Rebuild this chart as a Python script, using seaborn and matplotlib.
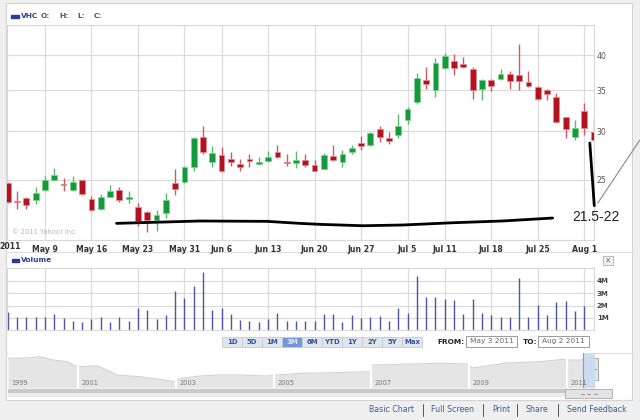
import numpy as np
import pandas as pd
import matplotlib
matplotlib.use("Agg")
import matplotlib.pyplot as plt
import seaborn as sns
from matplotlib.patches import Rectangle
from matplotlib.ticker import FixedLocator, NullLocator, FixedFormatter

sns.set_theme(style="white")
plt.rcParams['font.family'] = ['DejaVu Sans']

# trading days shown (May 30 and Jul 4 markets closed)
days = pd.bdate_range('2011-05-03', '2011-08-02')
days = days[~days.isin(pd.to_datetime(['2011-05-30', '2011-07-04']))]

opens = [24.7, 23.05, 23.3, 23.15, 24.0, 24.95, 24.6, 24.0, 24.95, 23.2,
         22.35, 23.4, 24.0, 23.2, 22.5, 22.15, 21.45, 22.0, 24.65, 24.8,
         26.2, 29.4, 26.7, 27.4, 27.05, 26.55, 27.05, 26.5, 26.8, 27.75,
         26.7, 26.6, 26.95, 26.4, 26.05, 27.3, 26.7, 27.7, 28.75, 28.5,
         30.3, 29.2, 29.6, 31.3, 33.5, 36.4, 35.05, 38.1, 39.1, 38.7,
         37.9, 35.2, 36.4, 36.5, 37.3, 37.1, 36.1, 35.5, 35.0, 34.1,
         31.65, 29.4, 32.35, 29.95]
highs = [24.8, 23.9, 23.4, 24.3, 25.3, 26.1, 25.1, 25.3, 25.0, 23.5,
         23.7, 24.5, 24.3, 23.9, 22.9, 22.2, 22.3, 23.76, 26.0, 26.3,
         29.4, 30.6, 28.4, 28.3, 27.7, 27.0, 27.5, 27.2, 27.8, 28.5,
         27.5, 27.8, 27.5, 26.9, 27.6, 28.5, 27.95, 28.5, 29.5, 29.9,
         30.6, 29.95, 32.0, 32.9, 37.4, 38.3, 39.5, 40.35, 40.1, 39.75,
         38.3, 36.5, 36.6, 37.9, 37.7, 41.7, 37.6, 35.6, 35.2, 34.6,
         31.7, 31.3, 33.4, 31.5]
lows = [22.9, 22.4, 22.4, 22.8, 23.95, 24.9, 23.95, 23.95, 23.6, 22.2,
        22.25, 23.4, 23.0, 22.9, 21.0, 20.5, 20.6, 21.6, 23.6, 24.7,
        25.8, 27.5, 26.2, 25.7, 26.3, 25.85, 26.25, 26.4, 26.75, 27.1,
        26.3, 26.1, 26.2, 25.8, 26.0, 26.85, 26.2, 27.5, 28.0, 28.4,
        28.85, 28.6, 29.2, 30.8, 33.3, 35.2, 34.2, 38.0, 37.1, 38.1,
        33.9, 33.7, 34.9, 36.4, 35.2, 35.1, 35.5, 33.75, 33.75, 31.0,
        29.3, 29.0, 29.6, 28.9]
closes = [23.0, 22.95, 22.7, 23.8, 24.95, 25.4, 24.5, 24.8, 23.65, 22.3,
          23.4, 23.95, 23.1, 23.45, 21.4, 21.5, 21.9, 23.14, 24.1, 26.25,
          29.3, 27.7, 27.6, 25.8, 26.7, 26.25, 26.85, 26.75, 27.25, 27.2,
          26.6, 26.9, 26.4, 25.85, 27.45, 26.9, 27.55, 28.2, 28.4, 29.75,
          29.4, 28.9, 30.55, 32.6, 36.7, 35.8, 38.8, 39.9, 38.1, 38.2,
          35.05, 36.4, 35.6, 37.3, 36.2, 36.3, 35.6, 33.9, 34.5, 31.1,
          30.3, 30.35, 30.4, 29.0]
# volume in millions, no bar yet for Aug 2
volume_m = [1.46, 1.05, 1.05, 1.1, 1.1, 1.3, 1.0, 0.73, 0.65, 0.92,
            1.08, 0.65, 1.08, 0.78, 1.78, 1.62, 0.92, 1.24, 3.19, 2.6,
            3.6, 4.68, 1.65, 1.78, 1.3, 0.84, 0.78, 0.65, 0.92, 1.43,
            0.78, 0.78, 0.76, 0.76, 1.3, 1.3, 0.65, 1.24, 0.97, 1.1,
            1.16, 0.73, 1.84, 1.38, 4.4, 2.7, 2.7, 2.57, 2.49, 1.3,
            2.57, 1.4, 1.24, 1.08, 1.1, 4.2, 1.05, 2.05, 1.24, 2.27,
            2.35, 1.57, 1.97]

tick_dates = ['2011-05-09', '2011-05-16', '2011-05-23', '2011-05-31', '2011-06-06',
              '2011-06-13', '2011-06-20', '2011-06-27', '2011-07-05', '2011-07-11',
              '2011-07-18', '2011-07-25', '2011-08-01']
tick_labels = ['May 9', 'May 16', 'May 23', 'May 31', 'Jun 6', 'Jun 13', 'Jun 20',
               'Jun 27', 'Jul 5', 'Jul 11', 'Jul 18', 'Jul 25', 'Aug 1']
price_ticks = [25, 30, 35, 40]
vol_ticks = [1, 2, 3, 4]
vol_labels = ['1M', '2M', '3M', '4M']

# hand drawn marks on the screenshot (day index, price)
curve_idx = [11.7, 20.7, 27.9, 31.4, 33.6, 38.2, 42.5, 47.9, 53.2, 58.6]
curve_price = [21.19, 21.38, 21.35, 21.19, 21.11, 21.0, 21.06, 21.24, 21.38, 21.62]
stroke_idx = [62.6, 63.08]
stroke_price = [28.7, 22.65]
diag_idx = [63.46, 67.98]
diag_price = [22.88, 29.02]
note_text = '21.5-22'

# long history navigator (year, level)
nav_years = [1999.57, 1999.96, 2000.22, 2000.49, 2000.78, 2000.98, 2001.04, 2001.39,
             2001.59, 2001.80, 2002.27, 2002.68, 2002.98, 2003.09, 2003.49, 2003.90,
             2004.31, 2004.87, 2005.07, 2005.54, 2006.21, 2006.97, 2007.03, 2007.58,
             2008.40, 2008.96, 2009.06, 2009.77, 2010.45, 2010.92, 2011.02, 2011.27,
             2011.47, 2011.57]
nav_level = [29.7, 30, 31.3, 28, 26.3, 21.3, 21.3, 22.3, 18, 13, 11.3, 8.7, 6.3, 9.7,
             12, 13, 13, 12, 13, 14.7, 15.3, 16.3, 23, 23.7, 24.7, 24, 20, 25, 26.3,
             28.7, 28, 28, 31, 30]
nav_labels = ['1999', '2001', '2003', '2005', '2007', '2009', '2011']
range_buttons = ['1D', '5D', '1M', '3M', '6M', 'YTD', '1Y', '2Y', '5Y', 'Max']
footer_links = ['Basic Chart', 'Full Screen', 'Print', 'Share', 'Send Feedback']

W, H = 640, 420
fig = plt.figure(figsize=(W / 100, H / 100), dpi=100)
fig.patch.set_facecolor('#efefef')


def px_axes(x0, y0, x1, y1, z=1):
    return fig.add_axes([x0 / W, 1 - y1 / H, (x1 - x0) / W, (y1 - y0) / H], zorder=z)


# page background / frame
ui = px_axes(0, 0, W, H, z=0)
ui.set_xlim(0, W)
ui.set_ylim(H, 0)
ui.axis('off')
ui.add_patch(Rectangle((6, 3), 626, 397, facecolor='white', edgecolor='#d4d4d4', lw=0.8))
ui.plot([6, 632], [252, 252], color='#dddddd', lw=0.8)
ui.plot([6, 632], [352.5, 352.5], color='#dddddd', lw=0.8)

grid_c = '#dcdcdc'
x = np.arange(len(days))
tick_idx = [int(np.where(days == pd.Timestamp(d))[0][0]) for d in tick_dates]
xlim = (-0.08, 63.05)

# price panel
ax = px_axes(7, 25, 594, 240)
ax.set_facecolor('white')
ax.set_yscale('log')
o = np.array(opens); c = np.array(closes)
up = c >= o
body_c = np.where(up, '#159a3b', '#b3121f')
edge_c = np.where(up, '#7fcf8f', '#e28a90')
wick_c = np.where(up, '#5db86e', '#cf5a63')
ax.vlines(x, lows, highs, colors=wick_c, lw=1, zorder=2)
bottoms = np.minimum(o, c)
heights = np.maximum(np.abs(c - o), 0.09)
ax.bar(x, heights, bottom=bottoms, width=0.62, color=body_c, edgecolor=edge_c,
       linewidth=0.5, zorder=3)
ax.set_xlim(*xlim)
ax.set_ylim(19.9, 44.8)
ax.yaxis.set_major_locator(FixedLocator(price_ticks))
ax.yaxis.set_major_formatter(FixedFormatter([str(p) for p in price_ticks]))
ax.yaxis.set_minor_locator(NullLocator())
ax.yaxis.tick_right()
ax.set_xticks(tick_idx)
ax.set_xticklabels(tick_labels, fontsize=5.6, fontweight='bold', color='#333333')
ax.tick_params(axis='x', length=0, pad=3.5)
ax.tick_params(axis='y', length=0, pad=2, labelsize=5.6, labelcolor='#555555')
ax.grid(True, color=grid_c, lw=0.9)
for s in ax.spines.values():
    s.set_color('#d8d8d8')
    s.set_linewidth(0.8)
ax.text(-0.85, -0.028, '2011', transform=ax.get_xaxis_transform(), ha='left', va='center',
        fontsize=5.6, fontweight='bold', color='#333333', clip_on=False)
ax.text(0.008, 0.035, '\u00a9 2011 Yahoo! Inc.', transform=ax.transAxes, fontsize=4.9,
        color='#b5b5b5', ha='left', va='center')

# hand drawn marks
sns.lineplot(x=curve_idx, y=curve_price, ax=ax, color='black', lw=2.0, sort=False,
             estimator=None, zorder=4)
ax.plot(stroke_idx, stroke_price, color='black', lw=2.0, solid_capstyle='round',
        clip_on=False, zorder=6)
ax.plot(diag_idx, diag_price, color='#8a8a8a', lw=0.8, clip_on=False, zorder=6)
ax.text(60.67, 21.74, note_text, fontsize=10, family='Liberation Sans', color='#222222',
        ha='left', va='center', clip_on=False, zorder=6)

# header
ui.add_patch(Rectangle((11, 14.5), 8, 3, color='#2b3c9a'))
ui.text(21, 16, 'VHC', fontsize=5.3, fontweight='bold', color='#2b3c9a', va='center')
for lab, px in zip(['O:', 'H:', 'L:', 'C:'], [41, 59, 77, 94]):
    ui.text(px, 16, lab, fontsize=5.3, fontweight='bold', color='#555555', va='center')

# volume panel
av = px_axes(7, 268, 594, 330.3)
av.set_facecolor('white')
av.vlines(x[:len(volume_m)], 0, volume_m, colors='#4b56a8', lw=1.0)
av.set_xlim(*xlim)
av.set_ylim(0, 5.04)
av.set_xticks(tick_idx)
av.set_xticklabels([])
av.set_yticks(vol_ticks)
av.set_yticklabels(vol_labels, fontsize=5, fontweight='bold', color='#444444')
av.yaxis.tick_right()
av.tick_params(length=0, pad=2)
av.grid(True, color=grid_c, lw=0.9)
for s in av.spines.values():
    s.set_color('#d8d8d8')
    s.set_linewidth(0.8)
ui.add_patch(Rectangle((12, 258.5), 7, 3, color='#2b3c9a'))
ui.text(21, 260, 'Volume', fontsize=5.3, fontweight='bold', color='#2b3c9a', va='center')
ui.add_patch(Rectangle((603, 256), 10, 8.5, facecolor='#f2f2f2', edgecolor='#b0b0b0', lw=0.6))
ui.text(608, 260.3, '\u00d7', fontsize=5.5, color='#666666', ha='center', va='center')

# range buttons
for i, lab in enumerate(range_buttons):
    bx = 222 + 20 * i
    sel = lab == '3M'
    ui.add_patch(Rectangle((bx, 336.5), 20, 10.5, facecolor='#7299d5' if sel else '#e1e6ec',
                           edgecolor='#c4cad3', lw=0.6))
    ui.text(bx + 10, 342, lab, fontsize=5, fontweight='bold', ha='center', va='center',
            color='#dfe9ff' if sel else '#2f56a3')
ui.text(437, 342, 'FROM:', fontsize=5.3, fontweight='bold', color='#222222', va='center')
ui.add_patch(Rectangle((466, 335.5), 51, 11.5, facecolor='white', edgecolor='#9a9a9a', lw=0.7))
ui.text(491.5, 341.5, days[0].strftime('%b %-d %Y'), fontsize=5.3, color='#666666',
        ha='center', va='center')
ui.text(523, 342, 'TO:', fontsize=5.3, fontweight='bold', color='#222222', va='center')
ui.add_patch(Rectangle((538, 335.5), 51, 11.5, facecolor='white', edgecolor='#9a9a9a', lw=0.7))
ui.text(563.5, 341.5, days[-1].strftime('%b %-d %Y'), fontsize=5.3, color='#666666',
        ha='center', va='center')

# navigator
an = px_axes(8, 353, 595, 388)
an.set_facecolor('white')
an.fill_between(nav_years, 0, nav_level, color='#e5e5e5', lw=0)
sns.lineplot(x=nav_years, y=nav_level, ax=an, color='#d2d2d2', lw=0.8, sort=False,
             estimator=None)
an.set_xlim(nav_years[0], nav_years[-1])
an.set_ylim(0, 35)
for lab in nav_labels:
    yr = int(lab)
    an.axvline(yr, color='white', lw=1.6)
    an.text(max(yr, nav_years[0]) + 0.07, 5, lab, fontsize=4.8, color='#777777',
            ha='left', va='center')
start = days[0].year + (days[0].dayofyear - 1) / 365
end = days[-1].year + (days[-1].dayofyear - 1) / 365
an.axvspan(start, end, color='#c9dbf2', alpha=0.9, lw=0)
an.axvline(start, color='#6c9de2', lw=0.8)
an.axvline(end, color='#6c9de2', lw=0.8)
an.set_xticks([])
an.set_yticks([])
for s in an.spines.values():
    s.set_visible(False)
# navigator handles
for hx, arrow in [(580.5, '\u25c2'), (592.5, '\u25b8')]:
    ui.add_patch(Rectangle((hx, 358), 5, 22, facecolor='#e4e4e4', edgecolor='#9a9a9a', lw=0.6,
                           zorder=5))
    ui.text(hx + 2.5, 369, arrow, fontsize=4, color='#333333', ha='center', va='center',
            zorder=6)

# scrollbar
ui.add_patch(Rectangle((8, 389), 590, 3.5, facecolor='#c9c9c9', lw=0))
ui.add_patch(Rectangle((8, 392.5), 590, 4, facecolor='#ececec', lw=0))
ui.add_patch(Rectangle((565, 389), 47, 9, facecolor='#e3e3e3', edgecolor='#ababab', lw=0.6))
for gx in [582, 588.5, 595]:
    ui.plot([gx - 1.5, gx + 1.5], [393.5, 393.5], color='#9a9a9a', lw=0.8)

# footer
fx = [369, 431, 492, 526, 567]
for i, (lab, px) in enumerate(zip(footer_links, fx)):
    ui.text(px, 410, lab, fontsize=5.7, color='#3a5d99', ha='left', va='center')
    if i < len(fx) - 1:
        sep = [423, 483, 517, 558][i]
        ui.plot([sep, sep], [404, 416], color='#555555', lw=0.7)

fig.savefig('out.png', dpi=100, facecolor=fig.get_facecolor())
